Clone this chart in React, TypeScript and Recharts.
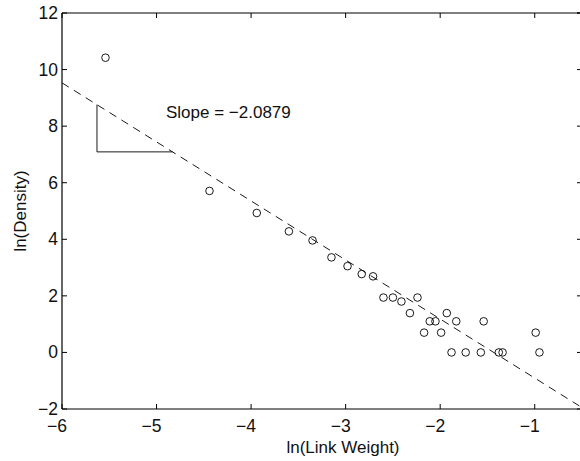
import React from 'react';
import {
  ScatterChart,
  Scatter,
  XAxis,
  YAxis,
  ReferenceLine,
} from 'recharts';

// observed points: ln(link weight) vs ln(density)
const lnWeight = [
  -5.54, -4.44, -3.94, -3.6, -3.35, -3.15, -2.98, -2.83, -2.71,
  -2.6, -2.5, -2.41, -2.24, -2.32, -1.93, -2.11, -2.05, -1.83, -1.54,
  -2.17, -1.99, -0.99, -1.88, -1.73, -1.57, -1.38, -1.34, -0.95,
];
const lnDensity = [
  10.42, 5.71, 4.93, 4.28, 3.96, 3.36, 3.05, 2.77, 2.69,
  1.94, 1.94, 1.8, 1.94, 1.39, 1.39, 1.1, 1.1, 1.1, 1.1,
  0.7, 0.7, 0.7, 0, 0, 0, 0, 0, 0,
];

// fitted line endpoints (slope -2.0879)
const fitX = [-6, -0.5];
const fitY = [9.53, -1.95];

// slope triangle corners
const triX = [-5.63, -4.83];
const triY = [8.76, 7.09];

const slopeText = 'Slope = \u22122.0879';
const slopeAt = { x: -4.9, y: 8.29 };

const xDomain = [-6, -0.5];
const yDomain = [-2, 12];
const xTicks = [-6, -5, -4, -3, -2, -1];
const yTicks = [-2, 0, 2, 4, 6, 8, 10, 12];

const points = lnWeight.map((x, i) => ({ x, y: lnDensity[i] }));

// plot box in px (chart margins + axis widths)
const PLOT = { left: 62, top: 13, width: 520 };

const FONT = '"Liberation Sans", Arial, Helvetica, sans-serif';
const fmt = (v: number) => String(v).replace('-', '\u2212');

const BottomTick = (props: any) => {
  const { x, y, payload } = props;
  return (
    <g>
      <line x1={x} x2={x} y1={y} y2={y - 5} stroke="#000" />
      <text x={x - 5} y={y + 23} textAnchor="middle" fontSize={17.5} fontFamily={FONT} fill="#111">
        {fmt(payload.value)}
      </text>
    </g>
  );
};

const LeftTick = (props: any) => {
  const { x, y, payload } = props;
  return (
    <g>
      <line x1={x} x2={x + 5} y1={y} y2={y} stroke="#000" />
      <text x={x - 4} y={y + 6} textAnchor="end" fontSize={17.5} fontFamily={FONT} fill="#111">
        {fmt(payload.value)}
      </text>
    </g>
  );
};

const RightTick = (props: any) => {
  const { x, y } = props;
  return <line x1={x} x2={x - 5} y1={y} y2={y} stroke="#000" />;
};

const Ring = (props: any) => (
  <circle cx={props.cx} cy={props.cy} r={3.8} fill="none" stroke="#000" strokeWidth={0.9} />
);

const SlopeLabel = (props: any) => (
  <text x={props.cx} y={props.cy} fontSize={17} fontFamily={FONT} fill="#111">
    {props.payload.label}
  </text>
);

// top frame edge with inward ticks, laid over the chart
const TopFrame = () => {
  const sx = (v: number) => PLOT.left + ((v - xDomain[0]) / (xDomain[1] - xDomain[0])) * PLOT.width;
  return (
    <svg
      width={580}
      height={30}
      style={{ position: 'absolute', left: 0, top: 0, zIndex: 10, pointerEvents: 'none' }}
    >
      <line x1={PLOT.left} x2={PLOT.left + PLOT.width} y1={PLOT.top} y2={PLOT.top} stroke="#000" strokeWidth={1.2} />
      {xTicks.map((t) => (
        <line key={t} x1={sx(t)} x2={sx(t)} y1={PLOT.top} y2={PLOT.top + 5} stroke="#000" />
      ))}
      <line x1={PLOT.left + PLOT.width - 5} x2={PLOT.left + PLOT.width} y1={PLOT.top} y2={PLOT.top} stroke="#000" />
    </svg>
  );
};

export default function App() {
  return (
    <div style={{ position: 'fixed', left: 0, top: 0, width: 580, height: 461, overflow: 'hidden', background: '#fff' }}>
      <ScatterChart width={590} height={461} margin={{ top: PLOT.top, right: 7, bottom: 0, left: 0 }}>
        <XAxis
          xAxisId="b"
          dataKey="x"
          type="number"
          domain={xDomain}
          ticks={xTicks}
          allowDataOverflow
          height={52}
          tickSize={0}
          tickMargin={0}
          tickLine={false}
          axisLine={{ stroke: '#000', strokeWidth: 1.2 }}
          tick={<BottomTick />}
          label={{
            value: 'ln(Link Weight)',
            position: 'insideBottom',
            offset: 8,
            dx: 21,
            style: { fontSize: 17, fontFamily: FONT, fill: '#111' },
          }}
        />
        <YAxis
          yAxisId="l"
          dataKey="y"
          type="number"
          domain={yDomain}
          ticks={yTicks}
          allowDataOverflow
          width={PLOT.left}
          tickSize={0}
          tickMargin={0}
          tickLine={false}
          axisLine={{ stroke: '#000', strokeWidth: 1.2 }}
          tick={<LeftTick />}
          label={{
            value: 'ln(Density)',
            angle: -90,
            position: 'insideLeft',
            offset: 20,
            style: { textAnchor: 'middle', fontSize: 17, fontFamily: FONT, fill: '#111' },
          }}
        />
        <YAxis
          yAxisId="r"
          orientation="right"
          dataKey="y"
          type="number"
          domain={yDomain}
          ticks={yTicks}
          allowDataOverflow
          width={1}
          tickSize={0}
          tickMargin={0}
          tickLine={false}
          axisLine={{ stroke: '#000', strokeWidth: 1.2 }}
          tick={<RightTick />}
        />
        <ReferenceLine
          xAxisId="b"
          yAxisId="l"
          segment={[{ x: fitX[0], y: fitY[0] }, { x: fitX[1], y: fitY[1] }]}
          stroke="#000"
          strokeWidth={0.9}
          strokeDasharray="8 6"
          ifOverflow="hidden"
        />
        <ReferenceLine
          xAxisId="b"
          yAxisId="l"
          segment={[{ x: triX[0], y: triY[0] }, { x: triX[0], y: triY[1] }]}
          stroke="#000"
          strokeWidth={0.9}
        />
        <ReferenceLine
          xAxisId="b"
          yAxisId="l"
          segment={[{ x: triX[0], y: triY[1] }, { x: triX[1], y: triY[1] }]}
          stroke="#000"
          strokeWidth={0.9}
        />
        <Scatter xAxisId="b" yAxisId="l" data={points} shape={<Ring />} isAnimationActive={false} />
        <Scatter
          xAxisId="b"
          yAxisId="l"
          data={[{ x: slopeAt.x, y: slopeAt.y, label: slopeText }]}
          shape={<SlopeLabel />}
          isAnimationActive={false}
        />
      </ScatterChart>
      <TopFrame />
    </div>
  );
}
